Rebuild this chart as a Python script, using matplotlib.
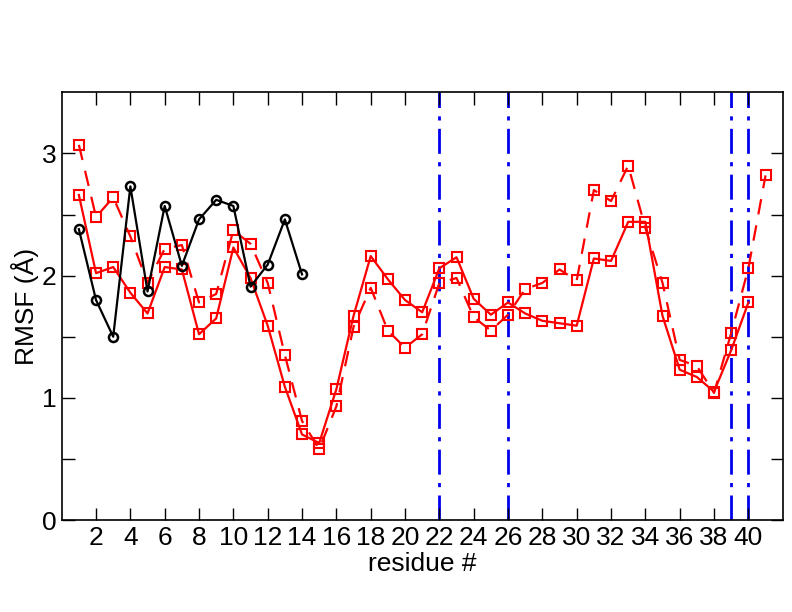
import matplotlib
matplotlib.use("Agg")
import matplotlib.pyplot as plt
import numpy as np

plt.rcParams['font.family'] = ['Liberation Sans Narrow', 'Liberation Sans', 'DejaVu Sans']

res_black = list(range(1, 15))
rmsf_black = [2.38, 1.80, 1.50, 2.73, 1.87, 2.57, 2.08, 2.46, 2.62, 2.57, 1.91, 2.09, 2.46, 2.01]

res_solid = list(range(1, 41))
rmsf_solid = [2.66, 2.02, 2.07, 1.86, 1.69, 2.07, 2.05, 1.52, 1.65, 2.23,
              1.98, 1.59, 1.09, 0.70, 0.63, 1.07, 1.67, 2.16, 1.97, 1.80,
              1.70, 2.06, 2.15, 1.81, 1.68, 1.78, 1.69, 1.63, 1.61, 1.59,
              2.14, 2.12, 2.44, 2.44, 1.67, 1.23, 1.17, 1.05, 1.39, 1.78]

res_dashed = list(range(1, 42))
rmsf_dashed = [3.07, 2.48, 2.64, 2.32, 1.94, 2.22, 2.25, 1.78, 1.85, 2.37,
               2.26, 1.94, 1.35, 0.81, 0.58, 0.93, 1.58, 1.90, 1.55, 1.41,
               1.52, 1.94, 1.98, 1.66, 1.55, 1.68, 1.89, 1.94, 2.05, 1.96,
               2.70, 2.61, 2.90, 2.39, 1.94, 1.31, 1.26, 1.04, 1.53, 2.06, 2.82]

vlines_x = [22, 26, 39, 40]
xticks = list(range(2, 41, 2))
yticks = [0, 0.5, 1, 1.5, 2, 2.5, 3]
ytick_labels = ['0', '', '1', '', '2', '', '3']

fig = plt.figure(figsize=(7.92, 6.12), dpi=100)
ax = fig.add_axes([61.7/792, 1-520/612, (782.7-61.7)/792, (520-92.3)/612])

for xv in vlines_x:
    ax.axvline(xv, color='#0000EE', lw=2.0, dashes=(9, 3, 1.5, 3), zorder=1)

ax.plot(res_black, rmsf_black, color='black', lw=1.6, marker='o', ms=6.5,
        mfc='none', mec='black', mew=1.8, zorder=3)
ax.plot(res_solid, rmsf_solid, color='red', lw=1.6, marker='s', ms=6.5,
        mfc='none', mec='red', mew=1.5, zorder=2)
ax.plot(res_dashed, rmsf_dashed, color='red', lw=1.6, marker='s', ms=6.5,
        mfc='none', mec='red', mew=1.5, dashes=(7, 5), zorder=2)

ax.set_xlim(0, 42)
ax.set_ylim(0, 3.5)
ax.set_xticks(xticks)
ax.set_yticks(yticks)
ax.set_yticklabels(ytick_labels)
ax.tick_params(direction='in', length=9, width=1, top=True, right=True,
               labelsize=19, pad=4)
for s in ax.spines.values():
    s.set_linewidth(1.2)

ax.set_xlabel('residue #', fontsize=19, labelpad=2)
ax.set_ylabel('RMSF (Å)', fontsize=19, labelpad=2)

fig.savefig('out.png', dpi=100)
